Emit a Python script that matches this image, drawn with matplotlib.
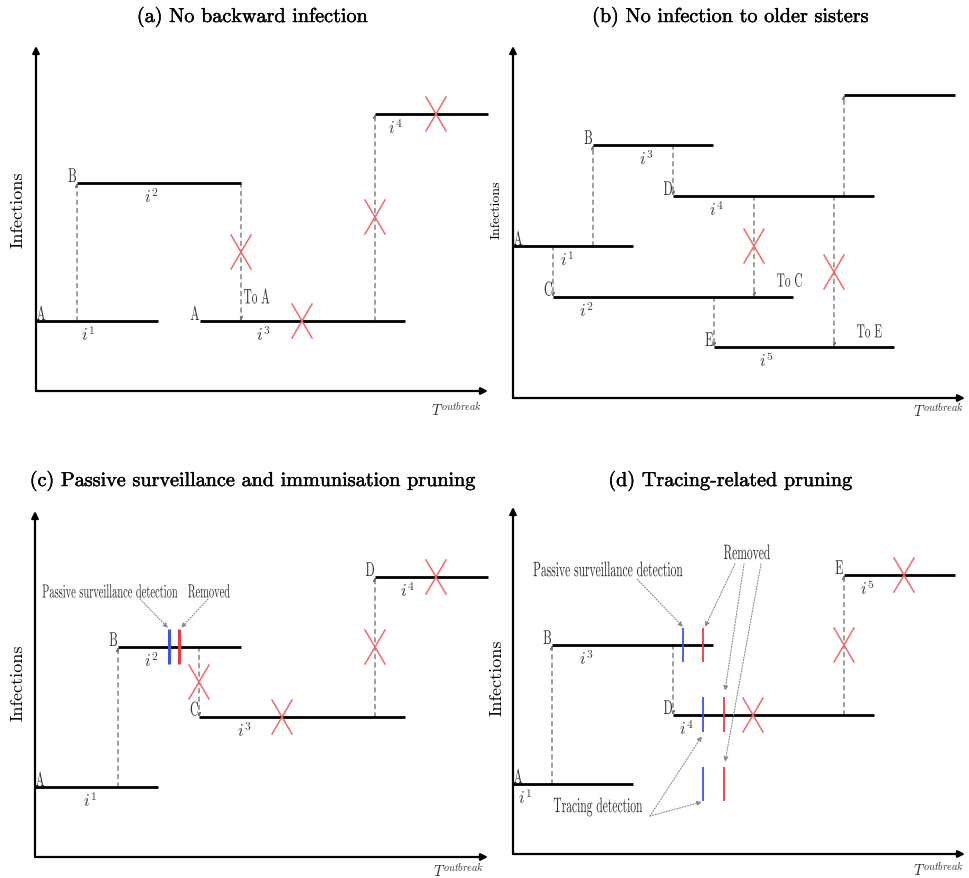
import matplotlib
matplotlib.use("Agg")
import matplotlib.pyplot as plt
import matplotlib.patheffects as pe
from matplotlib.textpath import TextPath
from matplotlib.patches import PathPatch
from matplotlib.font_manager import FontProperties
from matplotlib.transforms import Affine2D

plt.rcParams['font.family'] = 'cmr10'
plt.rcParams['mathtext.fontset'] = 'cm'
plt.rcParams['axes.unicode_minus'] = False

W, H = 969, 879

# panel boxes in figure pixels: origin x, origin y (from top), width, height
panel_x0 = [36, 513, 35, 513]
panel_y0 = [392, 399, 858, 855]
panel_w = [452, 452, 453, 452]
panel_h = [345, 352, 346, 347]
titles = ["(a) No backward infection", "(b) No infection to older sisters",
          "(c) Passive surveillance and immunisation pruning", "(d) Tracing-related pruning"]
ylabel_size = [13, 10, 13, 13]

# ---- panel (a)
a_seg_y = [70, 208, 70, 277]
a_seg_x0 = [0, 41, 164, 339]
a_seg_x1 = [122, 205, 369, 452]
a_node = ['A', 'B', 'A', '']
a_inf = ['1', '2', '3', '4']
a_inf_x = [52, 116, 228, 360]
a_link_x = [41, 205, 339]
a_link_from = [70, 208, 70]
a_link_to = [208, 70, 277]
a_cross_x = [205, 266, 339, 400]
a_cross_y = [139, 70, 174, 277]
a_note = ['To A']
a_note_x = [208]
a_note_y = [95]

# ---- panel (b)
b_seg_y = [152, 253, 101, 202, 51, 303]
b_seg_x0 = [0, 80, 40, 160, 201, 331]
b_seg_x1 = [120, 200, 280, 361, 381, 442]
b_node = ['A', 'B', 'C', 'D', 'E', '']
b_inf = ['1', '3', '2', '4', '5', '']
b_inf_x = [54, 134, 74, 204, 254, 0]
b_link_x = [80, 40, 160, 201, 331, 241, 321]
b_link_from = [152, 152, 253, 101, 202, 202, 202]
b_link_to = [253, 101, 202, 51, 303, 101, 51]
b_cross_x = [241, 321]
b_cross_y = [152, 126]
b_note = ['To C', 'To E']
b_note_x = [264, 344]
b_note_y = [118, 67]

# ---- panel (c)
c_seg_y = [70, 210, 140, 280]
c_seg_x0 = [0, 83, 164, 340]
c_seg_x1 = [123, 206, 370, 453]
c_node = ['A', 'B', 'C', 'D']
c_inf = ['1', '2', '3', '4']
c_inf_x = [55, 117, 210, 373]
c_link_x = [83, 164, 340]
c_link_from = [70, 210, 140]
c_link_to = [210, 140, 280]
c_cross_x = [164, 247, 340, 401]
c_cross_y = [175, 140, 210, 280]
c_mark_x = [134, 144]
c_mark_y0 = [193, 193]
c_mark_y1 = [228, 228]
c_mark_kind = ['detect', 'removed']
c_text = ['Passive surveillance detection', 'Removed']
c_text_x = [75, 174]
c_text_y = [266, 266]
c_arrow_from_x = [105, 173]
c_arrow_from_y = [258, 258]
c_arrow_to_x = [133, 146]
c_arrow_to_y = [229, 229]

# ---- panel (d)
d_seg_y = [70, 209, 139, 279]
d_seg_x0 = [0, 39, 160, 331]
d_seg_x1 = [120, 200, 361, 442]
d_node = ['A', 'B', 'D', 'E']
d_inf = ['1', '3', '4', '5']
d_inf_x = [12, 74, 174, 355]
d_link_x = [39, 160, 331]
d_link_from = [70, 209, 139]
d_link_to = [209, 139, 279]
d_cross_x = [331, 391, 240]
d_cross_y = [209, 279, 139]
d_mark_x = [170, 190, 190, 190, 211, 211]
d_mark_y0 = [192, 122, 53, 192, 122, 53]
d_mark_y1 = [226, 157, 87, 226, 157, 87]
d_mark_kind = ['detect', 'detect', 'detect', 'removed', 'removed', 'removed']
d_text = ['Passive surveillance detection', 'Removed', 'Tracing detection']
d_text_x = [95, 234, 85]
d_text_y = [285, 302, 47]
d_arrow_from_x = [124, 222, 231, 248, 137, 137]
d_arrow_from_y = [275, 290, 290, 290, 38, 38]
d_arrow_to_x = [170, 192, 212, 212, 189, 189]
d_arrow_to_y = [227, 227, 163, 92, 118, 52]

# T^outbreak label positions (right edge, relative to origin)
t_x = [446, 451, 449, 451]
t_y = [-18, -12, -13, -15]
ylab_x = [-18, -16, -17, -16]
ylab_y = [182, 189, 175, 177]
title_x = [216, 217, 217, 217]
title_y = [374, 381, 376, 373]

RED_X = '#f06a6a'
GREY = '#777777'
FP = FontProperties(family='cmr10')


def ntext(ax, x, y, s, em, ha='center', va='center', color='#333333', sx=0.6):
    # narrow (condensed) label drawn as a path in panel units
    tp = TextPath((0, 0), s, size=em, prop=FP)
    ext = tp.get_extents()
    w = ext.width * sx
    if ha == 'center':
        dx = x - (ext.x0 * sx + w / 2)
    elif ha == 'right':
        dx = x - (ext.x0 * sx + w)
    else:
        dx = x - ext.x0 * sx
    if va == 'center':
        dy = y - (ext.y0 + ext.height / 2)
    elif va == 'bottom':
        dy = y - ext.y0
    else:
        dy = y - ext.y1
    path = Affine2D().scale(sx, 1).translate(dx, dy).transform_path(tp)
    ax.add_patch(PathPatch(path, facecolor=color, lw=0, clip_on=False, zorder=6))


def draw_tree(ax, seg_y, seg_x0, seg_x1, node, inf, inf_x,
              link_x, link_from, link_to, cross_x, cross_y):
    for lx, ly0, ly1 in zip(link_x, link_from, link_to):
        ax.annotate('', xy=(lx, ly1), xytext=(lx, ly0),
                    arrowprops=dict(arrowstyle='-|>', color=GREY, lw=1.0,
                                    linestyle=(0, (3, 3)), mutation_scale=5,
                                    shrinkA=0, shrinkB=0))
    for y, x0, x1, n, i, ix in zip(seg_y, seg_x0, seg_x1, node, inf, inf_x):
        ax.plot([x0, x1], [y, y], color='black', lw=2.0, solid_capstyle='butt',
                clip_on=False, zorder=3)
        if n:
            if x0 == 0:
                ntext(ax, 1, y + 1, n, 20, ha='left', va='bottom')
            else:
                ntext(ax, x0 - 1, y + 1, n, 20, ha='right', va='bottom')
        if i:
            ax.text(ix, y - 3, r'$i^{%s}$' % i, ha='center', va='top', fontsize=12,
                    color='#444444')
    for cx, cy in zip(cross_x, cross_y):
        ax.plot([cx - 10, cx + 10], [cy - 17, cy + 17], color=RED_X, lw=1.1, zorder=4,
                clip_on=False)
        ax.plot([cx - 10, cx + 10], [cy + 17, cy - 17], color=RED_X, lw=1.1, zorder=4,
                clip_on=False)


def draw_marks(ax, mx, my0, my1, kind, lw):
    for x, y0, y1, k in zip(mx, my0, my1, kind):
        col = '#3f55e6' if k == 'detect' else '#ea3b43'
        ax.plot([x, x], [y0, y1], color=col, lw=lw, zorder=5, solid_capstyle='butt')


def draw_notes(ax, txt, tx, ty, fx, fy, tox, toy, em):
    for t, x, y in zip(txt, tx, ty):
        ntext(ax, x, y, t, em, sx=0.55)
    for x0, y0, x1, y1 in zip(fx, fy, tox, toy):
        ax.annotate('', xy=(x1, y1), xytext=(x0, y0),
                    arrowprops=dict(arrowstyle='-|>', color='#888888', lw=0.8,
                                    linestyle=(0, (1, 1.5)), mutation_scale=7,
                                    shrinkA=0, shrinkB=0))


fig = plt.figure(figsize=(W / 100, H / 100), dpi=100)
axes = []
for k in range(4):
    ax = fig.add_axes([panel_x0[k] / W, (H - panel_y0[k]) / H, panel_w[k] / W, panel_h[k] / H])
    ax.set_xlim(0, panel_w[k])
    ax.set_ylim(0, panel_h[k])
    ax.axis('off')
    for a in (((panel_w[k], 0)), ((0, panel_h[k]))):
        ax.annotate('', xy=a, xytext=(0, 0),
                    arrowprops=dict(arrowstyle='-|>', color='black', lw=1.6,
                                    mutation_scale=10, shrinkA=0, shrinkB=0))
    ax.text(title_x[k], title_y[k], titles[k], ha='center', va='center', fontsize=14.5,
            path_effects=[pe.withStroke(linewidth=0.3, foreground='black')])
    ax.text(ylab_x[k], ylab_y[k], 'Infections', rotation=90, ha='center', va='center',
            fontsize=ylabel_size[k])
    ax.text(t_x[k], t_y[k], r'$T^{outbreak}$', ha='right', va='center', fontsize=10.5,
            color='#333333')
    axes.append(ax)

ax_a, ax_b, ax_c, ax_d = axes

draw_tree(ax_a, a_seg_y, a_seg_x0, a_seg_x1, a_node, a_inf, a_inf_x,
          a_link_x, a_link_from, a_link_to, a_cross_x, a_cross_y)
for t, x, y in zip(a_note, a_note_x, a_note_y):
    ntext(ax_a, x, y, t, 21, ha='left', sx=0.54)

draw_tree(ax_b, b_seg_y, b_seg_x0, b_seg_x1, b_node, b_inf, b_inf_x,
          b_link_x, b_link_from, b_link_to, b_cross_x, b_cross_y)
for t, x, y in zip(b_note, b_note_x, b_note_y):
    ntext(ax_b, x, y, t, 19, ha='left')

draw_tree(ax_c, c_seg_y, c_seg_x0, c_seg_x1, c_node, c_inf, c_inf_x,
          c_link_x, c_link_from, c_link_to, c_cross_x, c_cross_y)
draw_marks(ax_c, c_mark_x, c_mark_y0, c_mark_y1, c_mark_kind, 2.2)
draw_notes(ax_c, c_text, c_text_x, c_text_y, c_arrow_from_x, c_arrow_from_y,
           c_arrow_to_x, c_arrow_to_y, 19)

draw_tree(ax_d, d_seg_y, d_seg_x0, d_seg_x1, d_node, d_inf, d_inf_x,
          d_link_x, d_link_from, d_link_to, d_cross_x, d_cross_y)
draw_marks(ax_d, d_mark_x, d_mark_y0, d_mark_y1, d_mark_kind, 1.3)
draw_notes(ax_d, d_text, d_text_x, d_text_y, d_arrow_from_x, d_arrow_from_y,
           d_arrow_to_x, d_arrow_to_y, 21)

fig.savefig('out.png', dpi=100, facecolor='white')
